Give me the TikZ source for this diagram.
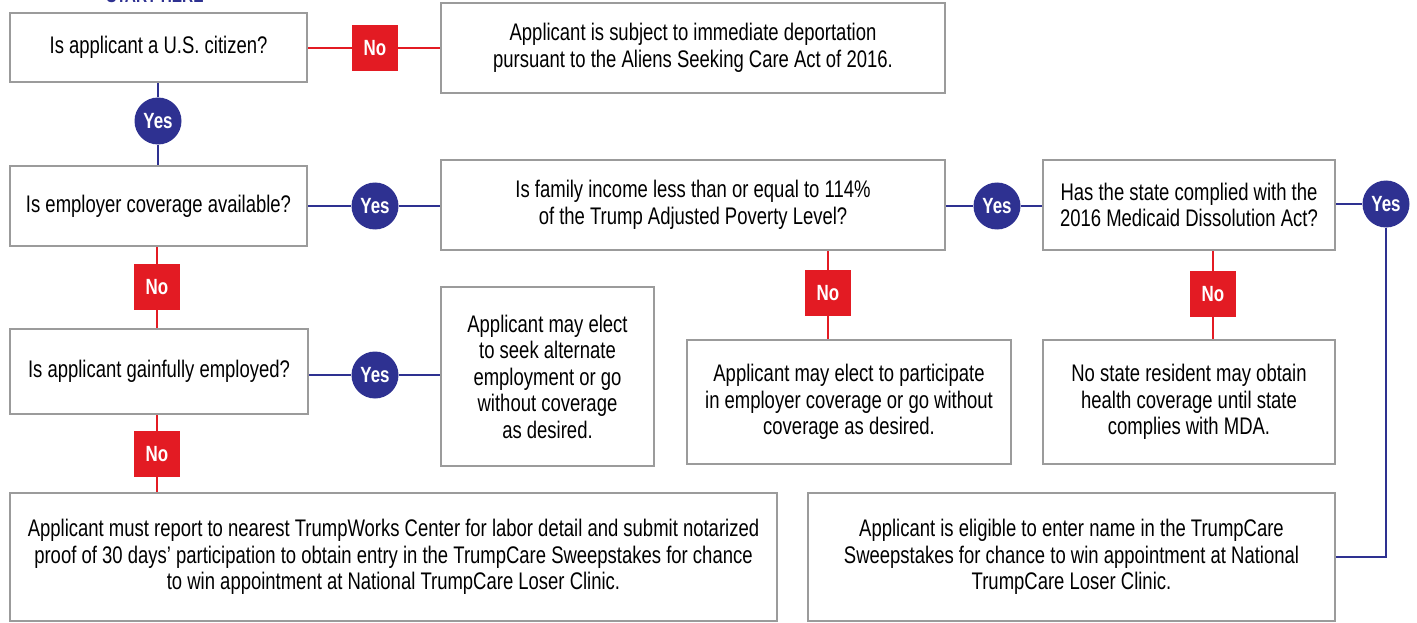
\documentclass[tikz,border=0pt]{standalone}
\usepackage{fontspec}
\setmainfont[FakeStretch=0.77]{Liberation Sans}
\definecolor{navy}{HTML}{2E3191}
\definecolor{nored}{HTML}{E31B23}
\definecolor{boxgray}{HTML}{9B9B9B}
\begin{document}
\begin{tikzpicture}[x=1pt,y=-1pt,
  box/.style={draw=boxgray, line width=2pt, fill=white, inner sep=0pt, align=center,
    font=\fontsize{24}{26.5}\selectfont},
  yes/.style={circle, fill=navy, text=white, inner sep=0pt, minimum size=47pt,
    font=\fontsize{22}{22}\selectfont\bfseries},
  no/.style={rectangle, fill=nored, text=white, inner sep=0pt, minimum size=46pt,
    font=\fontsize{22}{22}\selectfont\bfseries},
  bline/.style={draw=navy, line width=2pt},
  rline/.style={draw=nored, line width=2pt}]
\useasboundingbox (0,0) rectangle (1417,623);
\fill[white] (0,0) rectangle (1417,623);

\node[font=\fontsize{20}{20}\selectfont\bfseries, text=navy, anchor=base] (start) at (155,3) {START HERE};

% boxes
\node[box, minimum width=297pt, minimum height=69pt] (A) at (158.5,47.5) {Is applicant a U.S. citizen?};
\node[box, minimum width=504pt, minimum height=90pt] (B) at (693,48) {Applicant is subject to immediate deportation\\pursuant to the Aliens Seeking Care Act of 2016.};
\node[box, minimum width=297pt, minimum height=80pt] (C) at (158.5,206) {Is employer coverage available?};
\node[box, minimum width=504pt, minimum height=90pt] (D) at (693,205) {Is family income less than or equal to 114\%\\of the Trump Adjusted Poverty Level?};
\node[box, minimum width=292pt, minimum height=90pt] (E) at (1189,205) {Has the state complied with the\\2016 Medicaid Dissolution Act?};
\node[box, minimum width=298pt, minimum height=85pt] (F) at (159,371.5) {Is applicant gainfully employed?};
\node[box, minimum width=213pt, minimum height=179pt] (G) at (547.5,376.5) {Applicant may elect\\to seek alternate\\employment or go\\without coverage\\as desired.};
\node[box, minimum width=324pt, minimum height=124pt] (H) at (849,402) {Applicant may elect to participate\\in employer coverage or go without\\coverage as desired.};
\node[box, minimum width=292pt, minimum height=124pt] (I) at (1189,402) {No state resident may obtain\\health coverage until state\\complies with MDA.};
\node[box, minimum width=767pt, minimum height=128pt] (J) at (393.5,557) {Applicant must report to nearest TrumpWorks Center for labor detail and submit notarized\\proof of 30 days' participation to obtain entry in the TrumpCare Sweepstakes for chance\\to win appointment at National TrumpCare Loser Clinic.};
\node[box, minimum width=527pt, minimum height=128pt] (K) at (1071.5,557) {Applicant is eligible to enter name in the TrumpCare\\Sweepstakes for chance to win appointment at National\\TrumpCare Loser Clinic.};

% labels
\node[no] (nA) at (375,48) {No};
\node[yes] (yA) at (158,121) {Yes};
\node[yes] (yC) at (375,206) {Yes};
\node[yes] (yD) at (997,206) {Yes};
\node[yes] (yE) at (1386,204) {Yes};
\node[no] (nC) at (157,287) {No};
\node[no] (nD) at (828,293) {No};
\node[no] (nE) at (1213,294) {No};
\node[yes] (yF) at (375,375) {Yes};
\node[no] (nF) at (157,454) {No};

% connectors
\draw[rline] (A.east |- nA.west) -- (nA.west);
\draw[rline] (nA.east) -- (nA.east -| B.west);
\draw[bline] (yA.north) -- (yA.north |- A.south);
\draw[bline] (yA.south) -- (yA.south |- C.north);
\draw[bline] (C.east |- yC.west) -- (yC.west);
\draw[bline] (yC.east) -- (yC.east -| D.west);
\draw[bline] (D.east |- yD.west) -- (yD.west);
\draw[bline] (yD.east) -- (yD.east -| E.west);
\draw[bline] (E.east |- yE.west) -- (yE.west);
\draw[bline] (yE.south) |- (K.east);
\draw[rline] (nC.north) -- (nC.north |- C.south);
\draw[rline] (nC.south) -- (nC.south |- F.north);
\draw[rline] (nD.north) -- (nD.north |- D.south);
\draw[rline] (nD.south) -- (nD.south |- H.north);
\draw[rline] (nE.north) -- (nE.north |- E.south);
\draw[rline] (nE.south) -- (nE.south |- I.north);
\draw[bline] (F.east |- yF.west) -- (yF.west);
\draw[bline] (yF.east) -- (yF.east -| G.west);
\draw[rline] (nF.north) -- (nF.north |- F.south);
\draw[rline] (nF.south) -- (nF.south |- J.north);
\end{tikzpicture}
\end{document}
